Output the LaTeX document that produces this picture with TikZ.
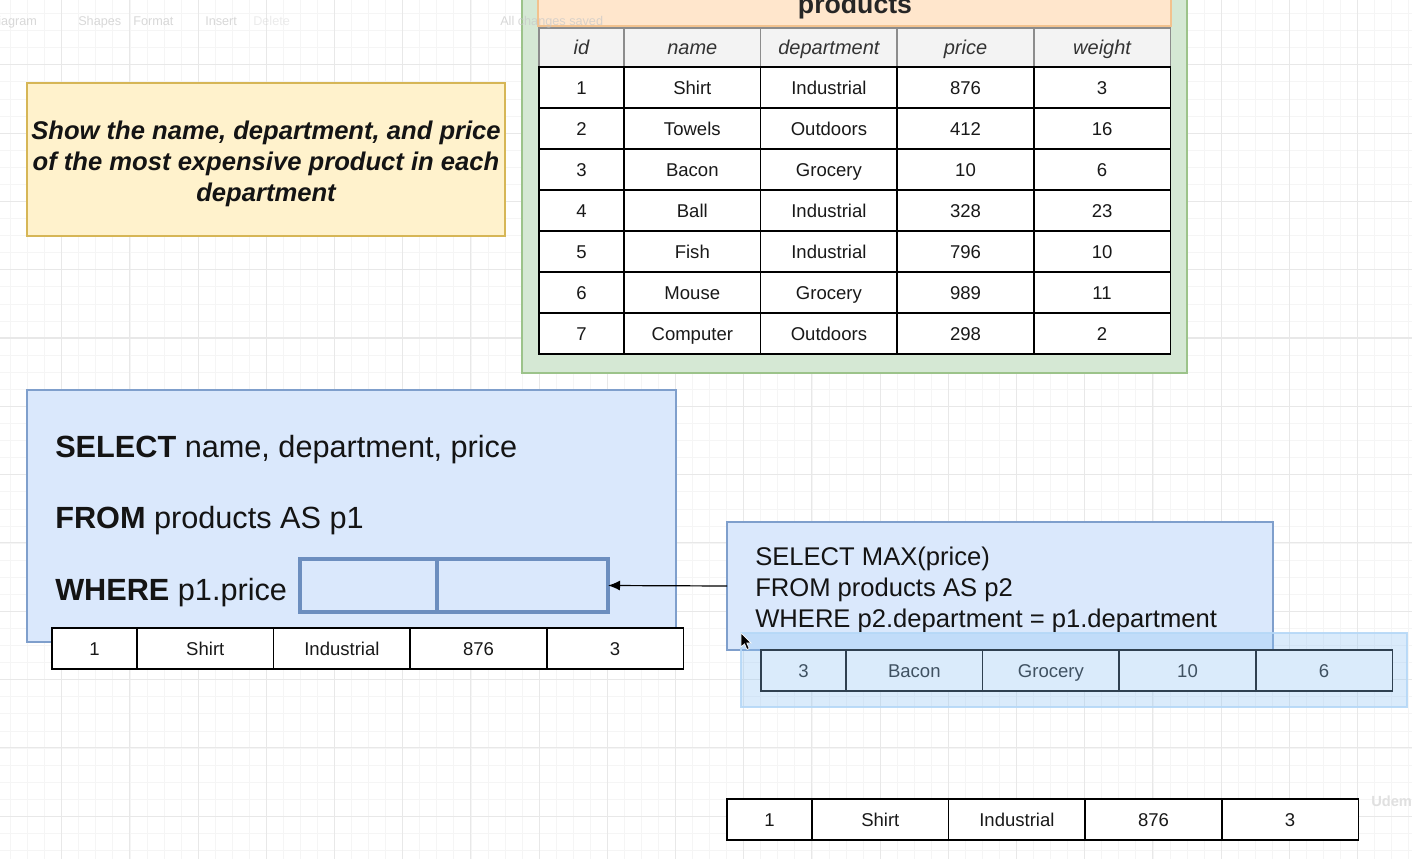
\documentclass[tikz,border=0pt]{standalone}
\usepackage{fontspec}
\setmainfont{Liberation Sans}
\usetikzlibrary{arrows.meta}
\definecolor{gridminor}{HTML}{F5F5F5}
\definecolor{gridmajor}{HTML}{E8E8E8}
\definecolor{yelfill}{HTML}{FFF2CC}
\definecolor{yeldraw}{HTML}{D6B656}
\definecolor{grnfill}{HTML}{D5E8D4}
\definecolor{grndraw}{HTML}{9CC38A}
\definecolor{orgfill}{HTML}{FFE6CC}
\definecolor{orgdraw}{HTML}{F2C28E}
\definecolor{bluefill}{HTML}{DAE8FC}
\definecolor{bluedraw}{HTML}{7F9FCC}
\definecolor{slotdraw}{HTML}{6C8EBF}
\definecolor{selfill}{HTML}{8FC4F5}
\definecolor{seldraw}{HTML}{B5D8F7}
\definecolor{hdrfill}{HTML}{F3F3F3}
\definecolor{hdrtext}{HTML}{333333}
\definecolor{uitext}{HTML}{C8C8C8}

\newcommand\mkrow[9]{%
  \node[#1, minimum width=63.75pt] (#2a) at (#3,#4) {#5};
  \node[#1, minimum width=102.45pt] (#2b) at (#2a.north east) {#6};
  \node[#1, minimum width=102.45pt] (#2c) at (#2b.north east) {#7};
  \node[#1, minimum width=102.45pt] (#2d) at (#2c.north east) {#8};
  \node[#1, minimum width=102.45pt] (#2e) at (#2d.north east) {#9};
}

\tikzset{
  cell/.style={draw=black, line width=1.3pt, fill=white, minimum height=30.75pt,
    inner sep=0pt, outer sep=0pt, anchor=north west, text=black!90,
    text height=10pt, text depth=0pt,
    font=\fontsize{13.9}{16}\selectfont},
  hcell/.style={draw=black!45, line width=1.1pt, fill=hdrfill, minimum height=29.25pt,
    inner sep=0pt, outer sep=0pt, anchor=north west, text=hdrtext,
    text height=10.7pt, text depth=0pt,
    font=\fontsize{15}{18}\itshape\selectfont},
  qtext/.style={anchor=base west, inner sep=0pt, text=black!92,
    font=\fontsize{23}{27}\selectfont},
  sqtext/.style={anchor=base west, inner sep=0pt, text=black!92,
    font=\fontsize{19.2}{23}\selectfont},
  uilabel/.style={anchor=base west, inner sep=0pt, text=uitext, text opacity=0.7,
    font=\fontsize{9.5}{11}\selectfont},
  slot/.style={draw=slotdraw, line width=2.3pt, fill=bluefill, minimum height=39.75pt,
    inner sep=0pt, outer sep=0pt, anchor=north west},
}

\begin{document}
\begin{tikzpicture}[x=0.75pt, y=-0.75pt]
\useasboundingbox (0,0) rectangle (1412,859);
\fill[white] (0,0) rectangle (1412,859);

% grid
\foreach \i in {0,...,84} {
  \draw[gridminor, line width=0.6pt] ({-6.5+\i*17.05},0) -- ({-6.5+\i*17.05},859);
}
\foreach \i in {0,...,51} {
  \draw[gridminor, line width=0.6pt] (0,{-3.5+\i*17.08}) -- (1412,{-3.5+\i*17.08});
}
\foreach \i in {0,...,21} {
  \draw[gridmajor, line width=0.8pt] ({-6.5+\i*68.2},0) -- ({-6.5+\i*68.2},859);
}
\foreach \i in {0,...,13} {
  \draw[gridmajor, line width=0.8pt] (0,{-3.5+\i*68.3}) -- (1412,{-3.5+\i*68.3});
}

% question box
\node[draw=yeldraw, fill=yelfill, line width=1.1pt, minimum width=358.5pt,
  minimum height=114.75pt, inner sep=0pt]
  (question) at (266,159.5) {};
\node[inner sep=0pt, align=center,
  font=\fontsize{19.2}{23.25}\bfseries\itshape\selectfont, text=black!92]
  (questiontext) at (266,163.5)
  {Show the name, department, and price\\of the most expensive product in each\\department};

% products table container
\node[draw=grndraw, fill=grnfill, line width=1.2pt, minimum width=498.75pt,
  minimum height=294.75pt, inner sep=0pt, outer sep=0pt, anchor=north west]
  (container) at (522,-20) {};
\node[draw=orgdraw, fill=orgfill, line width=1pt, minimum width=474.75pt,
  minimum height=34.5pt, inner sep=0pt, outer sep=0pt, anchor=north west]
  (titlebar) at (538,-20) {};
\node[anchor=base, inner sep=0pt, font=\fontsize{20}{24}\bfseries\selectfont,
  text=black!85] (title) at (855,14) {products};

\mkrow{hcell}{h}{539}{28}{id}{name}{department}{price}{weight}
\mkrow{cell}{ra}{539}{67}{1}{Shirt}{Industrial}{876}{3}
\mkrow{cell}{rb}{539}{108}{2}{Towels}{Outdoors}{412}{16}
\mkrow{cell}{rc}{539}{149}{3}{Bacon}{Grocery}{10}{6}
\mkrow{cell}{rd}{539}{190}{4}{Ball}{Industrial}{328}{23}
\mkrow{cell}{re}{539}{231}{5}{Fish}{Industrial}{796}{10}
\mkrow{cell}{rf}{539}{272}{6}{Mouse}{Grocery}{989}{11}
\mkrow{cell}{rg}{539}{313}{7}{Computer}{Outdoors}{298}{2}

% outer query
\node[draw=bluedraw, fill=bluefill, line width=1.1pt, minimum width=486.75pt,
  minimum height=189pt, inner sep=0pt, outer sep=0pt, anchor=north west]
  (outer) at (27,390) {};
\node[qtext] (q1) at (55,457) {\textbf{SELECT} name, department, price};
\node[qtext] (q2) at (55,528) {\textbf{FROM} products AS p1};
\node[qtext] (q3) at (55,600) {\textbf{WHERE} p1.price};
\node[slot, minimum width=102.75pt] (slotA) at (300,559) {};
\node[slot, minimum width=128.25pt] (slotB) at (437,559) {};

\mkrow{cell}{la}{52}{628}{1}{Shirt}{Industrial}{876}{3}

% subquery
\node[draw=bluedraw, fill=bluefill, line width=1.1pt, minimum width=409.5pt,
  minimum height=96pt, inner sep=0pt, outer sep=0pt, anchor=north west]
  (inner) at (727,522) {};
\node[sqtext] (s1) at (755,565) {SELECT MAX(price)};
\node[sqtext] (s2) at (755,596) {FROM products AS p2};
\node[sqtext] (s3) at (755,627) {WHERE p2.department = p1.department};

\draw[-{Latex[length=9pt,width=7.5pt]}, line width=0.9pt, black]
  (inner.west) -- (slotB.east);

\mkrow{cell}{sa}{761}{650}{3}{Bacon}{Grocery}{10}{6}

% selection highlight
\node[draw=seldraw, fill=selfill, fill opacity=0.33, draw opacity=0.9,
  line width=1pt, minimum width=499.5pt, minimum height=55.5pt, inner sep=0pt,
  outer sep=0pt, anchor=north west] (selection) at (741,633) {};

% mouse cursor
\fill[black, draw=white, line width=0.5pt]
  (741,633) -- (741,647) -- (744.5,643.8) -- (747,649.5) -- (749.2,648.5)
  -- (746.8,643) -- (751.2,643) -- cycle;

% result row
\mkrow{cell}{ba}{727}{799}{1}{Shirt}{Industrial}{876}{3}

% watermark
\node[anchor=base west, inner sep=0pt, text=black!12,
  font=\fontsize{11}{13}\bfseries\selectfont] (wm) at (1371,806) {Udemy};

% faint editor toolbar (over the canvas)
\node[uilabel] (tb1) at (-2,26) {iagram};
\node[uilabel] (tb2) at (78,26) {Shapes};
\node[uilabel] (tb3) at (133,26) {Format};
\node[uilabel] (tb4) at (205,26) {Insert};
\node[uilabel, text opacity=0.35] (tb5) at (253,26) {Delete};
\node[uilabel] (tb6) at (500,26) {All changes saved};
\end{tikzpicture}
\end{document}
